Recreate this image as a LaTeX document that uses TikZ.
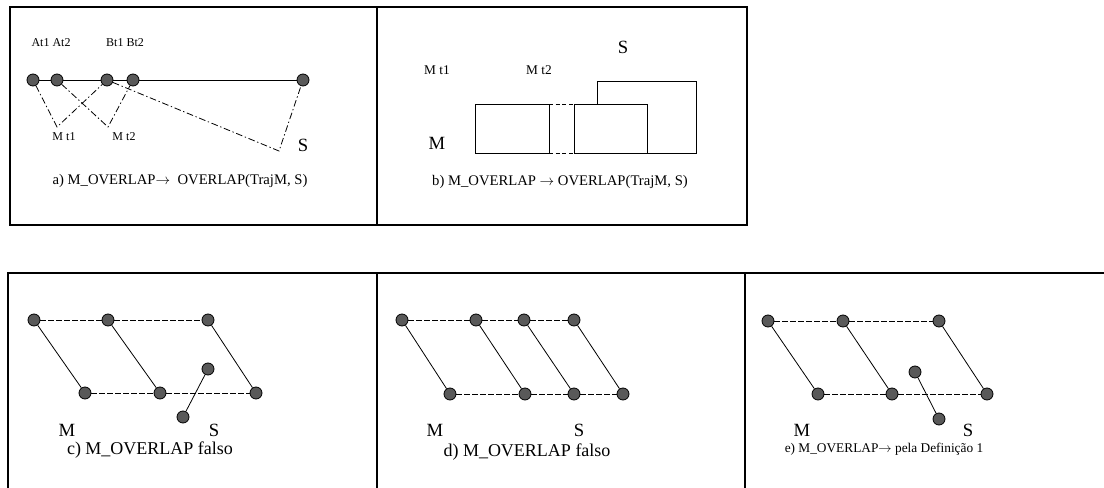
\documentclass[tikz,border=0pt]{standalone}
\usepackage{fontspec}
\setmainfont{Liberation Serif}
\begin{document}
\begin{tikzpicture}[x=0.75pt,y=0.75pt,yscale=-1,xscale=1,line width=0.6pt,
	dot/.style={circle,draw=black,fill=black!65,inner sep=0pt,minimum size=9pt},
	box/.style={line width=1pt},
	traj/.style={dash pattern=on 4pt off 2pt},
	dashdot/.style={dash pattern=on 5pt off 2pt on 1pt off 2pt},
	small/.style={font=\fontsize{9}{10}\selectfont},
	smallb/.style={font=\fontsize{10}{11}\selectfont},
	capab/.style={font=\fontsize{11}{12}\selectfont},
	capce/.style={font=\fontsize{13.5}{15}\selectfont},
	big/.style={font=\fontsize{14}{16}\selectfont}]
			\useasboundingbox (0,0) rectangle (1104,488);
			% frames
			\draw[box] (10,7) rectangle (747,225);
			\draw[box] (377,7) -- (377,225);
			\draw[box] (1104,273) -- (8,273) -- (8,488);
			\draw[box] (377,273) -- (377,488);
			\draw[box] (745,273) -- (745,488);
			
			% a)
			\node[small] (lAt) at (51,43) {At1 At2};
			\node[small] (lBt) at (125,43) {Bt1 Bt2};
			\node[dot] (a1) at (33,80) {};
			\node[dot] (a2) at (57,80) {};
			\node[dot] (a3) at (107,80) {};
			\node[dot] (a4) at (133,80) {};
			\node[dot] (a5) at (303,80) {};
			\coordinate (mt1) at (57,127);
			\coordinate (mt2) at (108,127);
			\coordinate (sa) at (279,151);
			\draw    (a1) -- (a2) -- (a3) -- (a4) -- (a5) ;
			\draw[dashdot]    (a1) -- (mt1) -- (a3) ;
			\draw[dashdot]    (a2) -- (mt2) -- (a4) ;
			\draw[dashdot]    (a3) -- (sa) -- (a5) ;
			\node[small] (lmt1) at (64,137) {M t1};
			\node[small] (lmt2) at (124,137) {M t2};
			\node[big] (lsa) at (303,145) {S};
			\node[capab] (capa) at (180,181) {a) M\_OVERLAP$\rightarrow$\ \ OVERLAP(TrajM, S)};
			
			% b)
			\node[smallb] (lbt1) at (437,70) {M t1};
			\node[smallb] (lbt2) at (539,70) {M t2};
			\node[big] (lsb) at (623,47) {S};
			\node[big] (lmb) at (437,143) {M};
			\draw    (475,104) rectangle (549,153) ;
			\draw    (574,104) rectangle (647,153) ;
			\draw[densely dashed]    (549,104) -- (574,104) ;
			\draw[densely dashed]    (549,153) -- (574,153) ;
			\draw    (597,104) -- (597,81) -- (696,81) -- (696,153) -- (647,153) ;
			\node[capab] (capb) at (560,182) {b) M\_OVERLAP $\rightarrow$ OVERLAP(TrajM, S)};
			
			% c)
			\node[dot] (c1) at (34,320) {};
			\node[dot] (c2) at (108,320) {};
			\node[dot] (c3) at (208,320) {};
			\node[dot] (c4) at (85,393) {};
			\node[dot] (c5) at (160,393) {};
			\node[dot] (c6) at (256,393) {};
			\node[dot] (cs1) at (208,369) {};
			\node[dot] (cs2) at (183,417) {};
			\draw[traj]    (c1) -- (c2) -- (c3) ;
			\draw[traj]    (c4) -- (c5) -- (c6) ;
			\draw    (c1) -- (c4) ;
			\draw    (c2) -- (c5) ;
			\draw    (c3) -- (c6) ;
			\draw    (cs1) -- (cs2) ;
			\node[big] (lmc) at (67,430) {M};
			\node[big] (lsc) at (214,430) {S};
			\node[capce] (capc) at (150,450) {c) M\_OVERLAP falso};
			
			% d)
			\node[dot] (d1) at (402,320) {};
			\node[dot] (d2) at (476,320) {};
			\node[dot] (d3) at (524,320) {};
			\node[dot] (d4) at (574,320) {};
			\node[dot] (d5) at (450,394) {};
			\node[dot] (d6) at (525,394) {};
			\node[dot] (d7) at (574,394) {};
			\node[dot] (d8) at (623,394) {};
			\draw[traj]    (d1) -- (d2) -- (d3) -- (d4) ;
			\draw[traj]    (d5) -- (d6) -- (d7) -- (d8) ;
			\draw    (d1) -- (d5) ;
			\draw    (d2) -- (d6) ;
			\draw    (d3) -- (d7) ;
			\draw    (d4) -- (d8) ;
			\node[big] (lmd) at (435,430) {M};
			\node[big] (lsd) at (579,430) {S};
			\node[capce] (capd) at (527,452) {d) M\_OVERLAP falso};
			
			% e)
			\node[dot] (e1) at (768,321) {};
			\node[dot] (e2) at (843,321) {};
			\node[dot] (e3) at (939,321) {};
			\node[dot] (e4) at (818,394) {};
			\node[dot] (e5) at (892,394) {};
			\node[dot] (e6) at (987,394) {};
			\node[dot] (es1) at (915,372) {};
			\node[dot] (es2) at (939,419) {};
			\draw[traj]    (e1) -- (e2) -- (e3) ;
			\draw[traj]    (e4) -- (e5) -- (e6) ;
			\draw    (e1) -- (e4) ;
			\draw    (e2) -- (e5) ;
			\draw    (e3) -- (e6) ;
			\draw    (es1) -- (es2) ;
			\node[big] (lme) at (802,430) {M};
			\node[big] (lse) at (968,430) {S};
			\node[font=\fontsize{10}{12}\selectfont] (cape) at (884,449) {e) M\_OVERLAP$\rightarrow$\ pela Definição 1};
\end{tikzpicture}
\end{document}
